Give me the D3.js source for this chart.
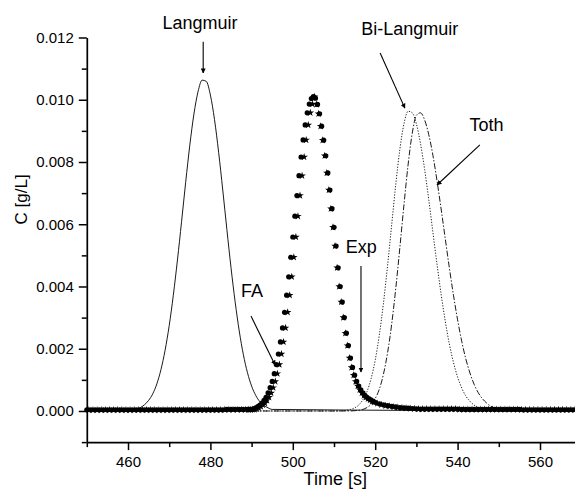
<!DOCTYPE html>
<html><head><meta charset="utf-8">
<script src="https://cdn.jsdelivr.net/npm/d3@7"></script>
<style>
body{margin:0;background:#fff}
svg{display:block}
text{font-family:"Liberation Sans",Arial,Helvetica,sans-serif;fill:#000}
</style>
</head><body>
<svg id="chart" width="575" height="491"></svg>
<script>
// ---------------- data ----------------
const xTicks = [460, 480, 500, 520, 540, 560];
const xMinorTicks = [450, 470, 490, 510, 530, 550, 570];
const yTicks = [0, 0.002, 0.004, 0.006, 0.008, 0.010, 0.012];
const yMinorTicks = [-0.001, 0.001, 0.003, 0.005, 0.007, 0.009, 0.011];

// Langmuir (solid line)
const langTime = [450,462,463,464,465,466,467,468,469,470,471,472,473,474,475,476,477,478,479,480,481,482,483,484,485,486,487,488,489,490,491,492,493,494,495,570];
const langC = [0,0.00006,0.00011,0.0002,0.00034,0.00055,0.00087,0.00133,0.00195,0.00274,0.00372,0.00485,0.00608,0.00735,0.00854,0.00954,0.01026,0.01063,0.01059,0.01015,0.00936,0.00831,0.0071,0.00583,0.00461,0.00351,0.00257,0.00181,0.00123,0.0008,0.0005,0.0003,0.00018,0.0001,0.00005,0];

// Bi-Langmuir (dotted line)
const biTime = [450,510,511,512,513,514,515,516,517,518,519,520,521,522,523,524,525,526,527,528,529,530,531,532,533,534,535,536,537,538,539,540,541,542,543,544,545,546,547,548,549,550,570];
const biC = [0,0,0,0.00001,0.00002,0.00005,0.0001,0.00019,0.00036,0.00062,0.00104,0.00163,0.00244,0.00346,0.00467,0.00598,0.00729,0.00842,0.00924,0.00963,0.00958,0.00922,0.00859,0.00776,0.00679,0.00575,0.00472,0.00375,0.00289,0.00215,0.00156,0.00109,0.00074,0.00048,0.00031,0.00019,0.00011,0.00006,0.00003,0.00002,0.00001,0,0];

// Toth (dash-dot line)
const tothTime = [450,514,515,516,517,518,519,520,521,522,523,524,525,526,527,528,529,530,531,532,533,534,535,536,537,538,539,540,541,542,543,544,545,546,547,548,549,550,551,552,553,554,570];
const tothC = [0,0,0.00001,0.00002,0.00005,0.00011,0.00021,0.0004,0.0007,0.00118,0.00187,0.00279,0.00395,0.00527,0.00665,0.00793,0.00893,0.0095,0.00958,0.00935,0.00888,0.00822,0.0074,0.00649,0.00554,0.0046,0.00372,0.00293,0.00224,0.00167,0.00122,0.00086,0.00059,0.0004,0.00026,0.00016,0.0001,0.00006,0.00004,0.00002,0.00001,0,0];

// Exp (filled dots) - detector sampling grid
const expTime = d3.range(450, 489, 1).concat(d3.range(489, 520, 0.5), d3.range(520, 571, 1));
const expC = [
  0.00004,0.00004,0.00004,0.00004,0.00004,0.00004,0.00004,0.00004,0.00004,0.00004,
  0.00004,0.00004,0.00004,0.00004,0.00004,0.00004,0.00004,0.00004,0.00004,0.00004,
  0.00004,0.00004,0.00004,0.00004,0.00004,0.00004,0.00004,0.00004,0.00004,0.00004,
  0.00004,0.00004,0.00004,0.00004,0.00005,0.00005,0.00005,0.00005,0.00005,
  0.00005,0.00005,0.00005,0.00007,0.0001,0.00014,0.00019,0.00025,0.00034,0.00044,
  0.00058,0.00075,0.00095,0.0012,0.00149,0.00183,0.00222,0.00267,0.00317,0.00372,
  0.00431,0.00494,0.00559,0.00626,0.00692,0.00756,0.00816,0.00871,0.00919,0.00958,
  0.00986,0.01004,0.0101,
  0.01005,0.00985,0.00955,0.00915,0.0087,0.0082,0.00765,0.0071,0.0065,0.0059,
  0.0053,0.0046,0.004,0.0035,0.003,0.0025,0.0021,0.0017,0.0014,0.00115,
  0.00095,0.0008,0.00068,0.00058,0.0005,0.00044,0.00039,0.00035,0.00031,
  0.00028,0.00023,0.0002,0.00017,0.00015,0.00013,0.00011,0.0001,0.00009,0.00008,0.00007,
  0.00006,0.00006,0.00006,0.00006,0.00006,0.00006,0.00006,0.00006,0.00006,0.00006,
  0.00005,0.00005,0.00005,0.00005,0.00005,0.00005,0.00005,0.00005,0.00005,0.00005,
  0.00005,0.00005,0.00005,0.00005,0.00005,0.00004,0.00004,0.00004,0.00004,0.00004,
  0.00004,0.00004,0.00004,0.00004,0.00004,0.00004,0.00004,0.00004,0.00004,0.00004
];

// FA (stars) - interleaved grid
const faTime = d3.range(450.5, 489, 1).concat(d3.range(489.25, 520, 0.5), d3.range(520.5, 570, 1));
const faC = [
  0.00003,0.00003,0.00003,0.00003,0.00003,0.00003,0.00003,0.00003,0.00003,0.00003,
  0.00003,0.00003,0.00003,0.00003,0.00003,0.00003,0.00003,0.00003,0.00003,0.00003,
  0.00003,0.00003,0.00003,0.00003,0.00003,0.00003,0.00003,0.00003,0.00003,0.00003,
  0.00003,0.00003,0.00003,0.00004,0.00004,0.00004,0.00004,0.00004,0.00004,
  0.00004,0.00004,0.00005,0.00005,0.00007,0.0001,0.00014,0.00019,0.00025,0.00034,
  0.00044,0.00058,0.00075,0.00095,0.0012,0.00149,0.00183,0.00222,0.00267,0.00317,
  0.00372,0.00431,0.00494,0.00559,0.00626,0.00692,0.00756,0.00816,0.00871,0.00919,
  0.00958,0.00986,0.0101,
  0.00985,0.00955,0.00915,0.0087,0.0082,0.00765,0.0071,0.0065,0.0059,0.0053,
  0.0046,0.004,0.0035,0.003,0.0025,0.0021,0.0017,0.0014,0.00115,0.00095,
  0.0008,0.00068,0.00058,0.0005,0.00044,0.00039,0.00035,0.00031,0.00028,
  0.00024,0.0002,0.00017,0.00015,0.00013,0.00011,0.0001,0.00009,0.00008,0.00007,
  0.00006,0.00006,0.00006,0.00006,0.00006,0.00006,0.00006,0.00006,0.00006,0.00006,
  0.00005,0.00005,0.00005,0.00005,0.00005,0.00005,0.00005,0.00005,0.00005,0.00005,
  0.00005,0.00005,0.00005,0.00005,0.00005,0.00004,0.00004,0.00004,0.00004,0.00004,
  0.00004,0.00004,0.00004,0.00004,0.00004,0.00004,0.00004,0.00004,0.00004,0.00004
];

// ---------------- drawing ----------------
const svg = d3.select("#chart");
const x = d3.scaleLinear().domain([450, 570]).range([86.8, 581.2]);
const y = d3.scaleLinear().domain([-0.001, 0.012]).range([442.1, 37.5]);

const zip = (ts, vs) => ts.map((t, i) => [t, vs[i]]).filter(d => d[1] !== undefined);

svg.append("defs").append("marker")
  .attr("id", "ah").attr("viewBox", "0 0 10 10").attr("refX", 9).attr("refY", 5)
  .attr("markerWidth", 5).attr("markerHeight", 5).attr("markerUnits", "userSpaceOnUse")
  .attr("orient", "auto")
  .append("path").attr("d", "M0,0 L10,5 L0,10 z").attr("fill", "#000");

const line = d3.line().x(d => x(d[0])).y(d => y(d[1])).curve(d3.curveMonotoneX);

// lines
svg.append("path").datum(zip(langTime, langC)).attr("d", line)
  .attr("fill", "none").attr("stroke", "#000").attr("stroke-width", 0.9);
svg.append("path").datum(zip(biTime, biC)).attr("d", line)
  .attr("fill", "none").attr("stroke", "#000").attr("stroke-width", 0.9)
  .attr("stroke-dasharray", "1.2,1.6");
svg.append("path").datum(zip(tothTime, tothC)).attr("d", line)
  .attr("fill", "none").attr("stroke", "#000").attr("stroke-width", 0.9)
  .attr("stroke-dasharray", "6,1.8,1.4,1.8");

// markers: FA stars underneath, Exp dots on top
const star = d3.symbol().type(d3.symbolStar).size(18);
svg.append("g").selectAll("path").data(zip(faTime, faC)).join("path")
  .attr("d", star).attr("transform", d => `translate(${x(d[0])},${y(d[1])})`).attr("fill", "#000");
svg.append("g").selectAll("circle").data(zip(expTime, expC)).join("circle")
  .attr("cx", d => x(d[0])).attr("cy", d => y(d[1])).attr("r", 2.6).attr("fill", "#000");

// axes
const axStyle = g => {
  g.select(".domain").attr("stroke-width", 1.7);
  g.selectAll(".tick line").attr("stroke-width", 1.5);
  g.selectAll("text").style("font-size", "15px").style("font-family", '"Liberation Sans",Arial,sans-serif');
};
svg.append("g").attr("transform", `translate(0,${y(-0.001)})`)
  .call(d3.axisBottom(x).tickValues(xTicks).tickFormat(d3.format("d")).tickSize(8).tickSizeOuter(0).tickPadding(6))
  .call(axStyle);
svg.append("g").attr("transform", `translate(0,${y(-0.001)})`)
  .call(d3.axisBottom(x).tickValues(xMinorTicks).tickFormat("").tickSize(5).tickSizeOuter(0))
  .call(g => { g.select(".domain").remove(); g.selectAll(".tick line").attr("stroke-width", 1.5); });
svg.append("g").attr("transform", `translate(${x(450)},0)`)
  .call(d3.axisLeft(y).tickValues(yTicks).tickFormat(d3.format(".3f")).tickSize(8).tickSizeOuter(0).tickPadding(5))
  .call(axStyle);
svg.append("g").attr("transform", `translate(${x(450)},0)`)
  .call(d3.axisLeft(y).tickValues(yMinorTicks).tickFormat("").tickSize(5).tickSizeOuter(0))
  .call(g => { g.select(".domain").remove(); g.selectAll(".tick line").attr("stroke-width", 1.5); });

// axis titles
svg.append("text").attr("x", x(510.3)).attr("y", 485).attr("text-anchor", "middle")
  .style("font-size", "18px").text("Time  [s]");
svg.append("text").attr("transform", `translate(27,${y(0.0068)}) rotate(-90)`).attr("text-anchor", "middle")
  .style("font-size", "17px").text("C  [g/L]");

// annotations
const notes = [
  {label: "Langmuir",    tx: 477.5, ty: 0.01227, from: [478.25, 0.01186], to: [478.25, 0.01086]},
  {label: "Bi-Langmuir", tx: 528.4, ty: 0.01208, from: [521.2, 0.0115],   to: [527.2, 0.00973]},
  {label: "Toth",        tx: 547.0, ty: 0.0090,  from: [545.4, 0.00855],  to: [535.0, 0.00726]},
  {label: "Exp",         tx: 516.6, ty: 0.00508, from: [516.55, 0.00466], to: [516.55, 0.00125]},
  {label: "FA",          tx: 490.1, ty: 0.00366, from: [489.85, 0.00305], to: [495.7, 0.00148]}
];
const ng = svg.append("g");
notes.forEach(n => {
  ng.append("text").attr("x", x(n.tx)).attr("y", y(n.ty)).attr("text-anchor", "middle")
    .style("font-size", "18px").text(n.label);
  ng.append("line").attr("x1", x(n.from[0])).attr("y1", y(n.from[1]))
    .attr("x2", x(n.to[0])).attr("y2", y(n.to[1]))
    .attr("stroke", "#000").attr("stroke-width", 1.1).attr("marker-end", "url(#ah)");
});
</script>
</body></html>
